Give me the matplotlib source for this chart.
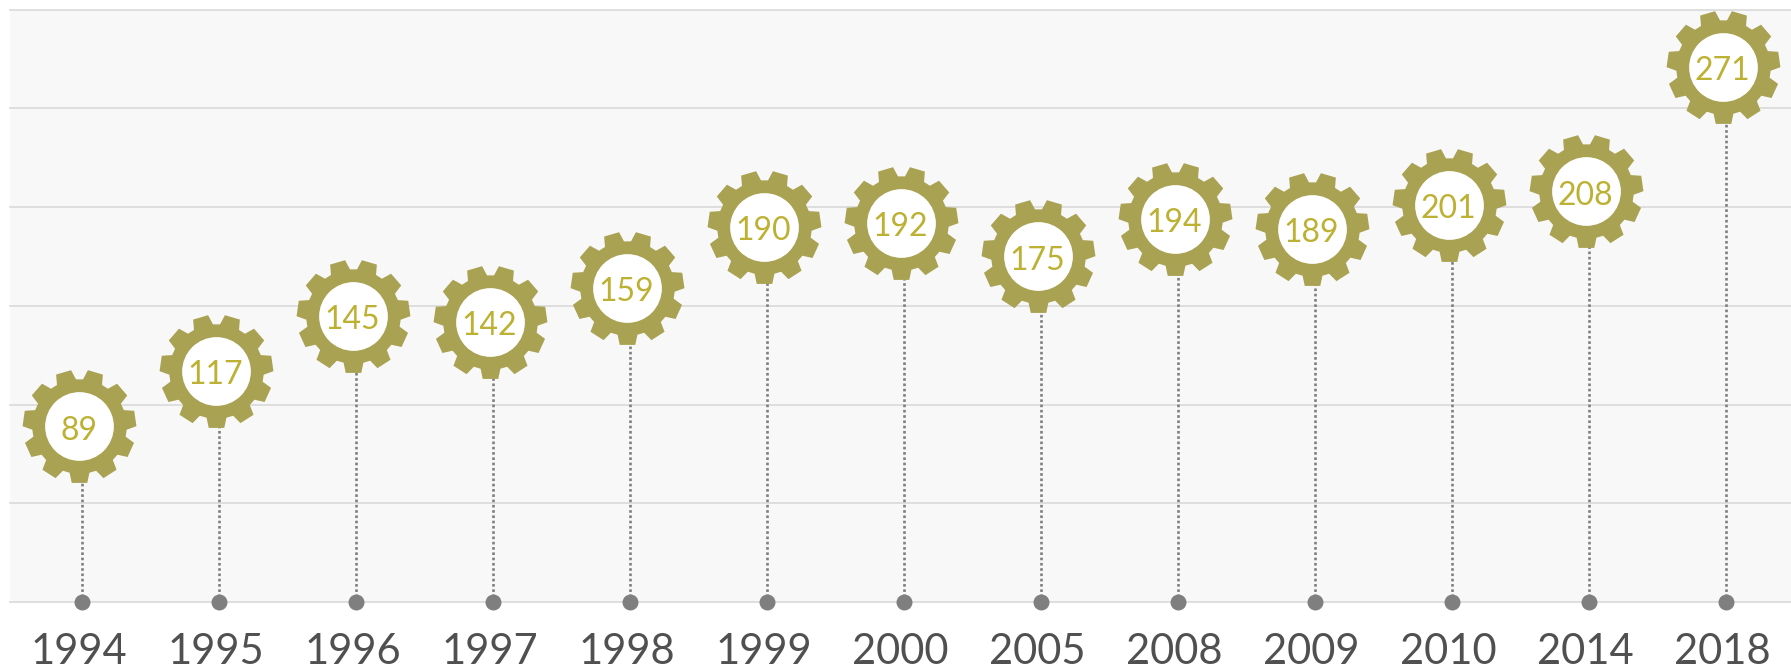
import numpy as np
import matplotlib
matplotlib.use('Agg')
import matplotlib.pyplot as plt
from matplotlib.path import Path

years = ['1994', '1995', '1996', '1997', '1998', '1999', '2000', '2005', '2008', '2009', '2010', '2014', '2018']
values = [89, 117, 145, 142, 159, 190, 192, 175, 194, 189, 201, 208, 271]
grid_ticks = [0, 50, 100, 150, 200, 250, 300]

W, H = 1791, 668
gear_col = '#a9a252'
text_col = '#bdb133'
grey = '#7f7f7f'


def gear_path(teeth=11, root=0.83, outer=1.0):
    # one tooth points straight down
    verts = []
    step = 2 * np.pi / teeth
    for i in range(teeth):
        a = -np.pi / 2 + i * step
        for da, r in [(-0.37, root), (-0.24, outer), (0.24, outer), (0.37, root)]:
            verts.append((r * np.cos(a + da * step), r * np.sin(a + da * step)))
    verts.append(verts[0])
    codes = [Path.MOVETO] + [Path.LINETO] * (len(verts) - 2) + [Path.CLOSEPOLY]
    return Path(verts, codes)


plt.rcParams['font.family'] = ['Lato', 'DejaVu Sans']
fig = plt.figure(figsize=(W / 100, H / 100), dpi=100, facecolor='white')
ax = fig.add_axes([10 / W, (H - 602) / H, (W - 10) / W, (602 - 9.5) / H])
ax.set_facecolor('#f8f8f8')

x = np.arange(len(years))
ax.set_xlim(-0.5, len(years) - 0.5)
ax.set_ylim(0, 300)

for t in grid_ticks:
    ax.axhline(t, color='#d9d9d9', lw=1.2, zorder=1, clip_on=False)

# stems sit a little right of the gear centres in the original
stem_x = x + 0.022
ax.vlines(stem_x, 0, values, color=grey, lw=1.9, linestyles=(0, (1, 1)), zorder=2)
ax.plot(stem_x, [0] * len(x), 'o', color=grey, ms=11.5, mew=0, zorder=3, clip_on=False)

ax.plot(x, values, ls='none', marker=gear_path(), color=gear_col, ms=82, mew=0, zorder=4, clip_on=False)
ax.plot(x, values, ls='none', marker='o', color='white', ms=49.5, mew=0, zorder=5, clip_on=False)

for xi, v in zip(x, values):
    ax.annotate(str(v), (xi, v), xytext=(0, -1), textcoords='offset points', ha='center',
                va='center_baseline', fontsize=23, color=text_col, zorder=6)

ax.set_xticks(x)
ax.set_xticklabels(years, fontsize=30, color='#505050')
ax.set_yticks([])
ax.tick_params(axis='x', length=0, pad=22)
for s in ax.spines.values():
    s.set_visible(False)

fig.savefig('out.png', dpi=100)
